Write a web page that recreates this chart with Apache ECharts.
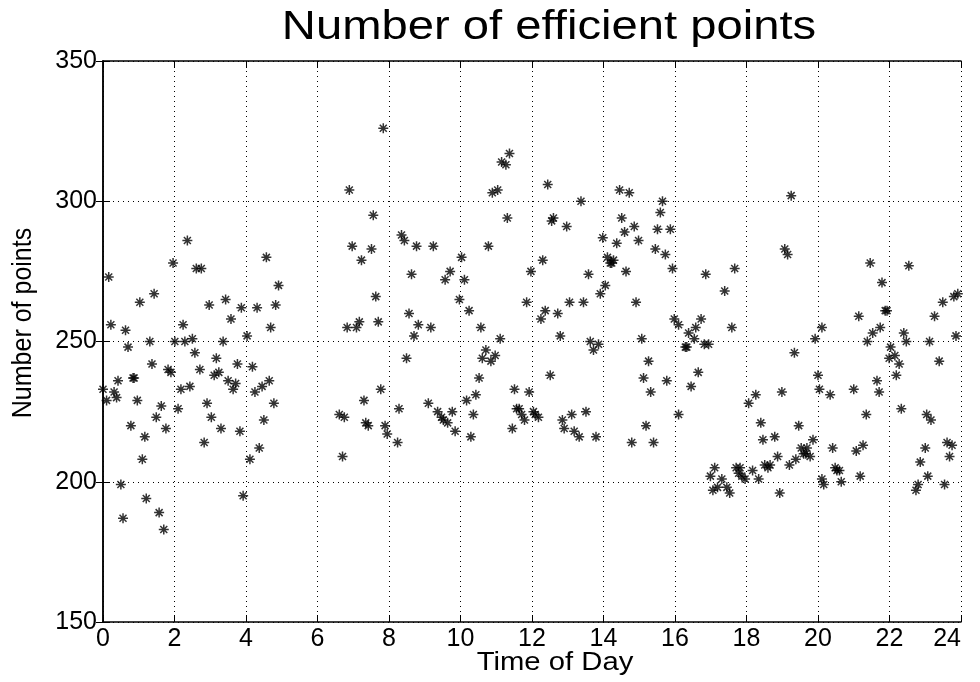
<!DOCTYPE html>
<html>
<head>
<meta charset="utf-8">
<script src="https://cdn.jsdelivr.net/npm/echarts@6/dist/echarts.min.js"></script>
<style>
  html, body { margin: 0; padding: 0; background: #fff; }
  #chart { width: 980px; height: 682px; }
</style>
</head>
<body>
<div id="chart"></div>
<script>
const chartTitle = 'Number of efficient points'
const xTitle = 'Time of Day'
const yTitle = 'Number of points'

// hour of day for each sample
const hours = [
  0.22, 0.63, 2.24, 0.70, 1.31, 2.01, 2.29, 2.50, 3.36, 2.57, 3.17, 1.37, 3.76, 1.82, 1.90, 2.71, 3.11, 3.24, 0.87, 0.84,
  0.42, 3.50, 3.71, 3.64, 2.43, 2.18, 0.00, 0.31, 0.10, 0.38, 0.96, 1.63, 2.10, 2.91, 1.49, 3.03, 0.78, 1.76, 3.30, 3.83,
  1.17, 2.83, 1.10, 0.50, 1.21, 1.57, 0.56, 1.70, 3.92, 2.36, 1.96, 2.61, 2.75, 0.16, 1.43, 1.03, 2.97, 3.43, 3.58, 3.87,
  7.84, 6.89, 7.56, 6.97, 7.51, 7.23, 4.57, 4.91, 4.83, 4.31, 4.69, 7.63, 7.17, 7.70, 6.83, 7.09, 4.03, 4.18, 4.65, 4.45,
  4.25, 4.78, 4.50, 4.37, 4.11, 6.61, 6.75, 7.30, 7.77, 7.35, 7.42, 7.89, 7.95, 6.70, 8.24,
  11.37, 11.15, 11.27, 10.89, 11.04, 11.31, 8.35, 8.43, 8.77, 9.24, 10.78, 10.03, 8.63, 9.71, 9.57, 10.11, 11.97, 9.97,
  11.85, 10.24, 8.56, 8.82, 9.17, 10.57, 8.70, 11.11, 8.49, 10.71, 10.97, 10.61, 10.85, 10.52, 11.51, 11.92, 10.43,
  10.17, 9.10, 8.28, 9.36, 9.77, 10.36, 9.47, 9.52, 9.64, 9.85, 10.29, 11.57, 11.64, 11.71, 11.79, 11.45,
  12.44, 14.45, 14.72, 13.37, 15.65, 15.59, 12.60, 12.55, 12.97, 14.51, 14.86, 14.59, 15.51, 15.87, 13.98, 14.37, 14.98,
  15.45, 15.73, 12.30, 14.11, 14.19, 14.28, 14.23, 14.63, 15.93, 13.58, 14.05, 13.91, 13.05, 13.44, 14.91, 12.37, 12.72,
  12.25, 15.98, 16.10, 12.79, 13.63, 13.86, 13.72, 15.07, 15.26, 12.51, 15.12, 15.77, 15.32, 12.04, 12.18, 12.09, 13.11,
  13.51, 12.85, 12.90, 13.18, 13.32, 13.79, 15.19, 14.79, 15.40, 16.10,
  19.25, 19.07, 19.15, 16.86, 17.67, 17.39, 16.73, 16.58, 17.59, 20.11, 16.38, 16.54, 16.29, 16.33, 16.82, 16.94, 19.92,
  19.34, 16.65, 16.45, 20.00, 20.04, 18.26, 18.99, 18.06, 18.40, 19.46, 18.46, 18.79, 19.86, 19.53, 19.69, 19.60, 19.66,
  19.38, 19.78, 18.87, 19.20, 18.51, 18.66, 18.60, 17.11, 16.99, 17.31, 17.71, 17.82, 17.78, 17.87, 18.17, 17.96, 18.34,
  17.06, 17.19, 17.45, 17.53, 18.93, 20.11, 20.16,
  21.46, 22.54, 21.79, 21.88, 21.93, 21.14, 23.26, 23.49, 23.80, 23.91, 21.74, 21.53, 22.40, 21.38, 22.47, 23.12, 23.86,
  22.03, 22.15, 21.99, 22.27, 23.39, 22.19, 21.65, 21.00, 21.71, 20.34, 22.33, 21.35, 23.04, 23.16, 20.41, 21.07, 21.26,
  23.00, 23.61, 23.75, 23.68, 22.86, 20.48, 20.60, 20.53, 20.65, 21.18, 23.07, 22.80, 22.74, 23.54
]

// number of efficient points, same order as hours
const counts = [
  256, 254, 256, 248, 250, 250, 250, 251, 250, 246, 244, 242, 242, 240, 239, 240, 238, 239, 237, 237,
  236, 236, 235, 233, 234, 233, 233, 232, 229, 230, 229, 227, 226, 228, 223, 223, 220, 219, 219, 218,
  216, 214, 208, 199, 194, 189, 187, 183, 195, 286, 278, 276, 276, 273, 267, 264, 263, 265, 258, 262,
  326, 304, 295, 284, 283, 279, 280, 270, 263, 262, 255, 266, 257, 257, 255, 255, 252, 241, 236, 234,
  232, 228, 222, 212, 208, 224, 223, 229, 233, 221, 220, 220, 217, 209, 214,
  317, 314, 313, 303, 304, 294, 288, 286, 284, 284, 284, 280, 274, 275, 272, 272, 275, 265,
  264, 261, 260, 256, 255, 255, 252, 251, 244, 247, 245, 244, 243, 237, 233, 232, 231,
  229, 228, 226, 225, 225, 224, 223, 222, 221, 218, 216, 226, 226, 224, 222, 219,
  306, 304, 303, 300, 300, 296, 294, 293, 291, 294, 291, 289, 290, 290, 287, 285, 286,
  283, 281, 279, 280, 278, 279, 278, 275, 276, 274, 270, 267, 264, 264, 264, 261, 260,
  258, 258, 256, 252, 250, 249, 247, 251, 243, 238, 237, 236, 232, 225, 223, 224, 224,
  225, 222, 219, 218, 216, 216, 220, 214, 214, 224,
  302, 283, 281, 274, 276, 268, 258, 255, 255, 255, 253, 251, 248, 248, 249, 249, 251,
  246, 239, 234, 238, 233, 231, 232, 228, 221, 220, 215, 216, 215, 212, 212, 210, 210,
  208, 209, 209, 206, 206, 206, 205, 205, 202, 201, 205, 205, 203, 202, 204, 201, 201,
  197, 198, 198, 196, 196, 201, 199,
  278, 277, 271, 261, 261, 259, 259, 264, 266, 267, 255, 253, 253, 250, 250, 250, 252,
  248, 245, 244, 242, 243, 238, 236, 233, 232, 231, 226, 224, 224, 222, 212, 211, 213,
  212, 214, 213, 209, 207, 205, 204, 204, 200, 202, 202, 199, 197, 199
]

const font = "'Liberation Sans', Arial, Helvetica, sans-serif"
const star = 'path://M0 5 L10 5 M5 0 L5 10 M1.5 1.5 L8.5 8.5 M8.5 1.5 L1.5 8.5'

const chart = echarts.init(document.getElementById('chart'), null, { renderer: 'canvas' })

const gridLine = { show: true, lineStyle: { color: '#000', type: [1, 4], width: 1 } }
const frame = { show: true, lineStyle: { color: '#000', width: 1.5 } }
const ticks = { show: true, inside: true, length: 7, lineStyle: { color: '#000', width: 1 } }
const baseX = { type: 'value', min: 0, max: 24, interval: 2 }
const baseY = { type: 'value', min: 150, max: 350, interval: 50 }

// the reference lettering is a bit wider than it is tall
const label = (text, x, y, size, extra) => ({
  type: 'text', x, y, silent: true, ...extra,
  style: {
    text, fill: '#000', fontFamily: font, fontSize: size,
    align: 'center', verticalAlign: 'middle',
    textAlign: 'center', textVerticalAlign: 'middle'
  }
})

chart.setOption({
  animation: false,
  backgroundColor: '#fff',
  graphic: [
    label(chartTitle, 549, 28, 40, { scaleX: 1.18 }),
    label(xTitle, 555, 663, 25, { scaleX: 1.17 }),
    label(yTitle, 23, 323, 25, { rotation: Math.PI / 2, scaleY: 1.12 })
  ],
  grid: { left: 103, right: 19, top: 61, bottom: 60 },
  xAxis: [
    {
      ...baseX,
      position: 'bottom',
      axisLine: frame,
      axisTick: ticks,
      axisLabel: { fontFamily: font, fontSize: 25, color: '#000', margin: 5, alignMaxLabel: 'right' },
      splitLine: gridLine
    },
    {
      ...baseX,
      position: 'top',
      axisLine: frame,
      axisTick: ticks,
      axisLabel: { show: false },
      splitLine: { show: false }
    }
  ],
  yAxis: [
    {
      ...baseY,
      position: 'left',
      axisLine: frame,
      axisTick: ticks,
      axisLabel: { fontFamily: font, fontSize: 25, color: '#000', margin: 6 },
      splitLine: gridLine
    },
    {
      ...baseY,
      position: 'right',
      axisLine: frame,
      axisTick: ticks,
      axisLabel: { show: false },
      splitLine: { show: false }
    }
  ],
  series: [{
    type: 'scatter',
    data: hours.map((h, i) => [h, counts[i]]),
    symbol: star,
    symbolSize: 10,
    itemStyle: { color: 'transparent', borderColor: '#000', borderWidth: 1.5 },
    emphasis: { disabled: true }
  }]
})
</script>
</body>
</html>
